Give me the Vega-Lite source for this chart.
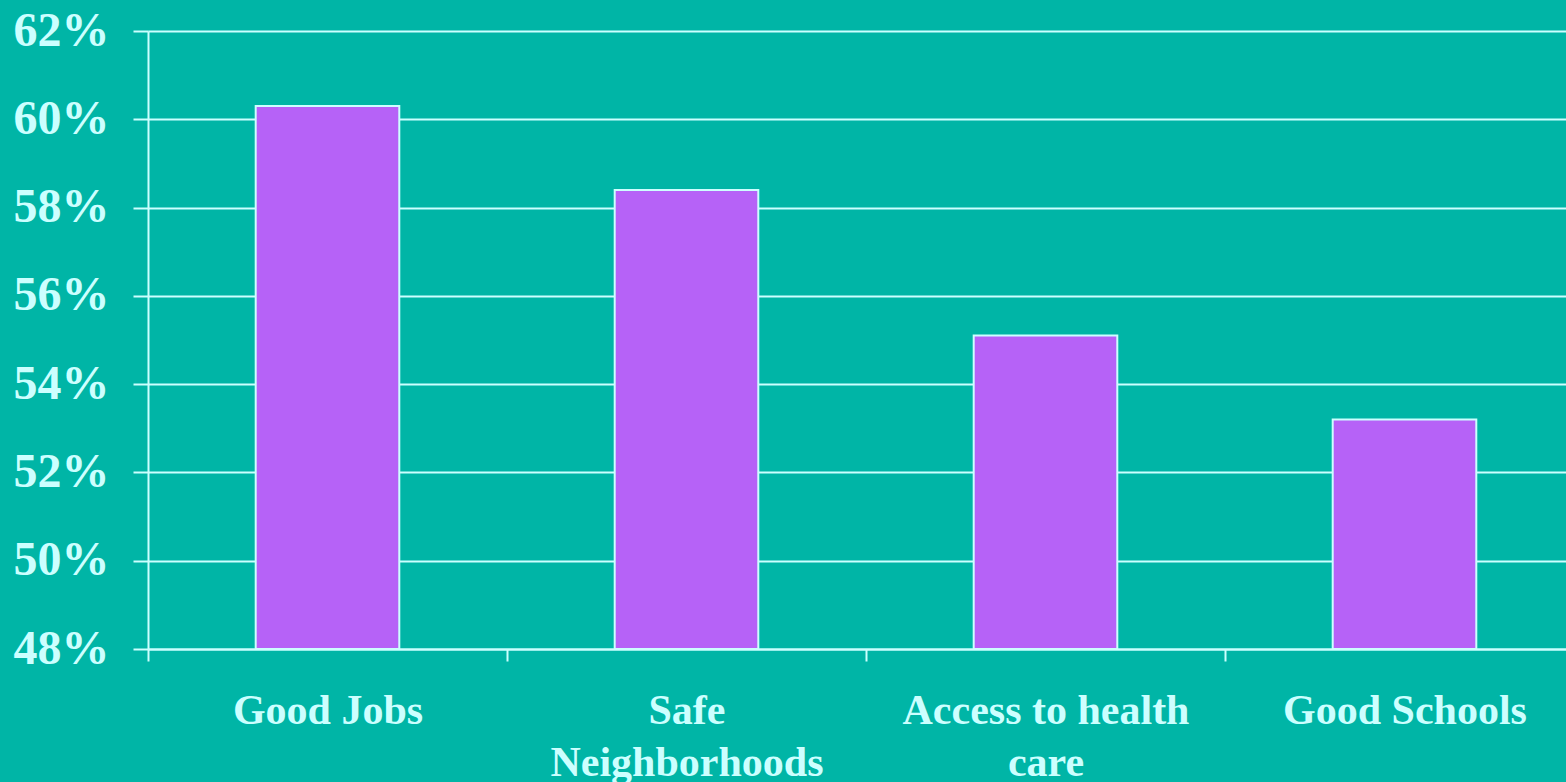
{
  "$schema": "https://vega.github.io/schema/vega-lite/v6.json",
  "width": 1418,
  "height": 618,
  "autosize": {"type": "none"},
  "padding": {"left": 148, "top": 31, "right": 0, "bottom": 133},
  "background": "#00B5A6",
  "config": {"view": {"stroke": null}},
  "data": {
    "values": [
      {"category": "Good Jobs", "share": 0.603},
      {"category": "Safe Neighborhoods", "share": 0.584},
      {"category": "Access to health care", "share": 0.551},
      {"category": "Good Schools", "share": 0.532}
    ]
  },
  "mark": {"type": "bar", "color": "#B662F7", "stroke": "#CCFFFF", "strokeWidth": 2, "width": {"band": 0.4}},
  "encoding": {
    "x": {
      "field": "category",
      "type": "nominal",
      "sort": null,
      "scale": {"paddingInner": 0, "paddingOuter": 0, "range": [0, 1436]},
      "axis": {
        "title": null,
        "labelAngle": 0,
        "tickBand": "extent",
        "domainColor": "#CCFFFF",
        "domainWidth": 2,
        "tickColor": "#CCFFFF",
        "tickWidth": 2,
        "tickSize": 12,
        "labelPadding": 29,
        "labelFont": "Liberation Serif",
        "labelFontWeight": "bold",
        "labelFontSize": 42,
        "labelColor": "#CCFFFF",
        "labelLimit": 0,
        "labelLineHeight": 52,
        "labelBaseline": "top",
        "labelExpr": "datum.value == 'Safe Neighborhoods' ? ['Safe', 'Neighborhoods'] : datum.value == 'Access to health care' ? ['Access to health', 'care'] : datum.value"
      }
    },
    "y": {
      "field": "share",
      "type": "quantitative",
      "scale": {"domain": [0.48, 0.62], "zero": false, "nice": false},
      "axis": {
        "title": null,
        "format": ".0%",
        "values": [0.48, 0.50, 0.52, 0.54, 0.56, 0.58, 0.60, 0.62],
        "grid": true,
        "gridColor": "#CCFFFF",
        "gridWidth": 2,
        "gridOpacity": 1,
        "domainColor": "#CCFFFF",
        "domainWidth": 2,
        "tickColor": "#CCFFFF",
        "tickWidth": 2,
        "tickSize": 15,
        "labelPadding": 24,
        "labelFont": "Liberation Serif",
        "labelFontWeight": "bold",
        "labelFontSize": 48,
        "labelColor": "#CCFFFF",
        "labelBaseline": "middle"
      }
    },
    "y2": {"datum": 0.48}
  }
}
